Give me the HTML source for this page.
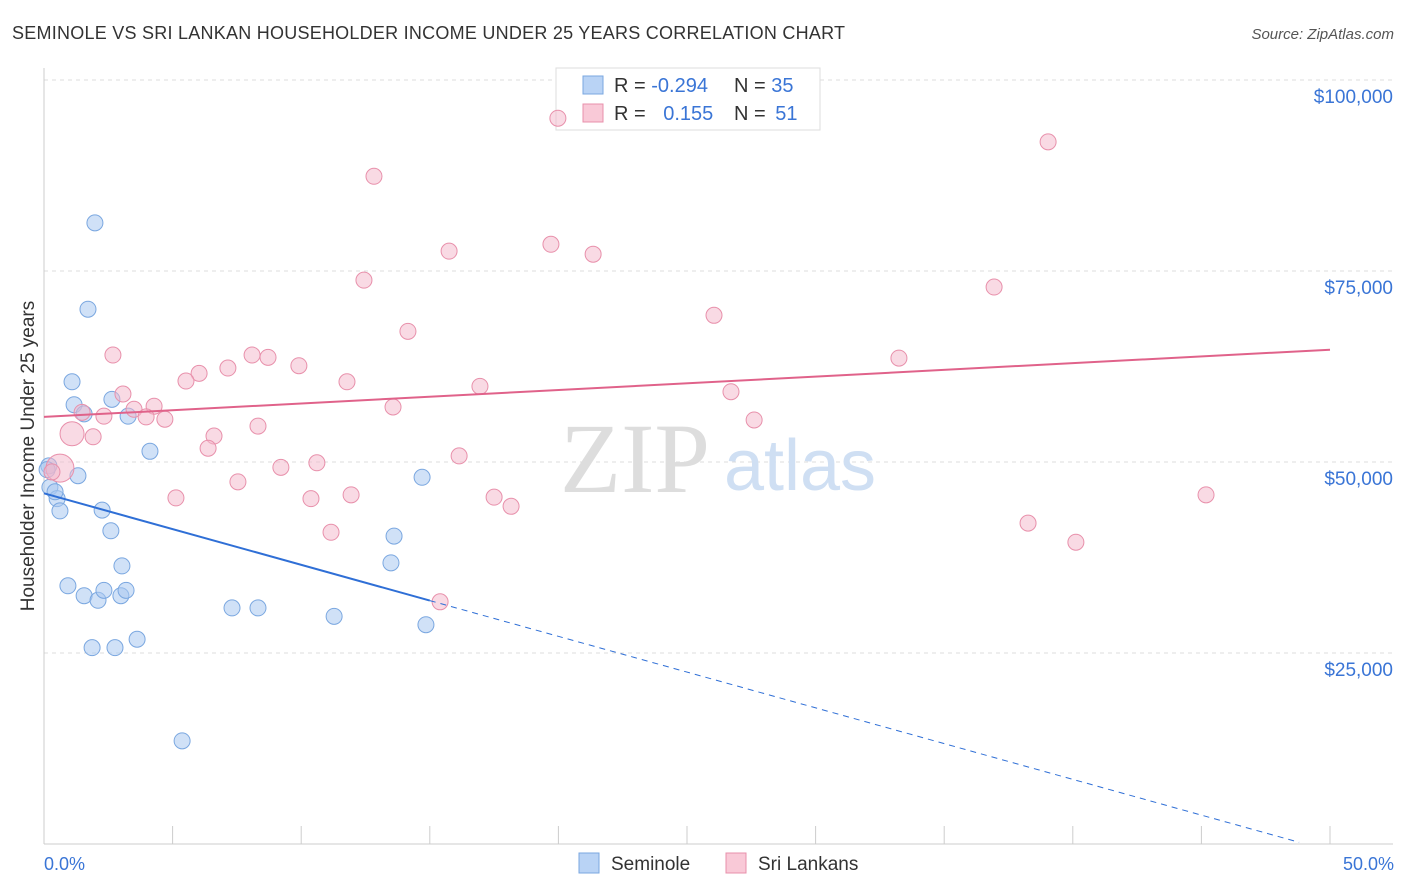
<!DOCTYPE html>
<html><head><meta charset="utf-8"><style>
body{margin:0;background:#fff;font-family:"Liberation Sans",sans-serif;}
svg{display:block}
</style></head><body>
<svg id="chart" width="1406" height="892" xmlns="http://www.w3.org/2000/svg">
<text x="12" y="39" font-size="18" fill="#333" textLength="833">SEMINOLE VS SRI LANKAN HOUSEHOLDER INCOME UNDER 25 YEARS CORRELATION CHART</text>
<text x="1394" y="39" font-size="15" fill="#555" font-style="italic" text-anchor="end">Source: ZipAtlas.com</text>
<g id="grid"></g>
<text x="635" y="492" font-size="100" fill="#ddd" font-family="Liberation Serif" text-anchor="middle">ZIP</text>
<text x="800" y="490" font-size="72" fill="#cfdff3" text-anchor="middle">atlas</text>
<g id="axes"></g>
<g>
<rect x="556" y="68" width="264" height="62" fill="#fff" stroke="#ddd"/>
<rect x="583" y="76" width="20" height="18" fill="#b9d3f5" stroke="#7aa7e0"/>
<rect x="583" y="104" width="20" height="18" fill="#f9c9d7" stroke="#e890ab"/>
<text x="614" y="92" font-size="20" fill="#333">R = <tspan fill="#3a75d6">-0.294</tspan></text>
<text x="734" y="92" font-size="20" fill="#333">N = <tspan fill="#3a75d6">35</tspan></text>
<text x="614" y="120" font-size="20" fill="#333">R = <tspan fill="#3a75d6" dx="12">0.155</tspan></text>
<text x="734" y="120" font-size="20" fill="#333">N = <tspan fill="#3a75d6" dx="4">51</tspan></text>
</g>
<g id="marks"></g>
<text x="34" y="456" font-size="19" fill="#333" text-anchor="middle" transform="rotate(-90 34 456)">Householder Income Under 25 years</text>
<text x="44" y="870" font-size="18" fill="#3a75d6">0.0%</text>
<text x="1394" y="870" font-size="18" fill="#3a75d6" text-anchor="end">50.0%</text>
<g>
<rect x="579" y="853" width="20" height="20" fill="#b9d3f5" stroke="#7aa7e0"/>
<text x="611" y="870" font-size="19" fill="#333">Seminole</text>
<rect x="726" y="853" width="20" height="20" fill="#f9c9d7" stroke="#e890ab"/>
<text x="758" y="870" font-size="19" fill="#333">Sri Lankans</text>
</g>
</svg>
<script>
const yTicks=[25,50,75,100];
const yTickLabels=["$25,000","$50,000","$75,000","$100,000"];
const xTicks=[0,5,10,15,20,25,30,35,40,45,50];
const seminoleX=[1.98,1.71,1.09,1.17,1.56,2.64,3.27,4.12,0.19,0.23,0.51,0.62,1.32,2.26,2.60,3.03,0.93,1.56,2.10,2.33,2.99,3.19,1.87,2.76,3.62,5.37,7.31,8.32,11.28,13.61,13.49,14.70,14.85,0.43,0.12];
const seminoleY=[81.3,70.0,60.5,57.5,56.3,58.2,56.0,51.4,49.5,46.7,45.2,43.6,48.2,43.7,41.0,36.4,33.8,32.5,31.9,33.2,32.5,33.2,25.7,25.7,26.8,13.5,30.9,30.9,29.8,40.3,36.8,48.0,28.7,46.1,49.0];
const sriX=[19.98,39.04,12.83,15.75,19.71,21.35,12.44,36.94,14.15,26.05,2.68,8.09,8.71,9.91,6.03,5.52,7.15,11.78,16.95,33.24,26.71,3.07,4.28,3.50,13.57,2.33,3.97,4.70,1.48,27.61,1.09,1.91,6.61,8.32,6.38,16.14,10.61,9.21,0.62,0.31,7.54,5.13,10.38,11.94,17.50,18.16,11.16,38.26,40.12,45.18,15.40];
const sriY=[95.0,91.9,87.4,77.6,78.5,77.2,73.8,72.9,67.1,69.2,64.0,64.0,63.7,62.6,61.6,60.6,62.3,60.5,59.9,63.6,59.2,58.9,57.3,56.9,57.2,56.0,55.9,55.6,56.5,55.5,53.7,53.3,53.4,54.7,51.8,50.8,49.9,49.3,49.2,48.7,47.4,45.3,45.2,45.7,45.4,44.2,40.8,42.0,39.5,45.7,31.7];
const sriR=[8,8,8,8,8,8,8,8,8,8,8,8,8,8,8,8,8,8,8,8,8,8,8,8,8,8,8,8,8,8,12,8,8,8,8,8,8,8,14,8,8,8,8,8,8,8,8,8,8,8,8];
const seminoleTrend=[45.9,-0.9];
const sriTrend=[55.9,64.7];
const blueSolidEnd=15;

const NS="http://www.w3.org/2000/svg";
const xs=v=>44+v/50*1286;
const ys=v=>844-v*7.64;
function el(t,a,p){const e=document.createElementNS(NS,t);for(const k in a)e.setAttribute(k,a[k]);document.getElementById(p).appendChild(e);return e;}
yTicks.forEach((t,i)=>{
 const l=el('line',{x1:44,x2:1393,y1:ys(t),y2:ys(t),stroke:'#ddd','stroke-dasharray':'4 4'},'grid');
 
 
 const tx=el('text',{x:1393,y:ys(t)+23,'font-size':19,fill:'#3a75d6','text-anchor':'end'},'axes');
 tx.textContent=yTickLabels[i];
 
 
});
const xa=el('line',{x1:44,x2:1393,y1:844,y2:844,stroke:'#ccc'},'axes');


const ya=el('line',{x1:44,x2:44,y1:68,y2:844,stroke:'#ccc'},'axes');


xTicks.forEach(t=>{
 const l=el('line',{x1:xs(t),x2:xs(t),y1:826,y2:844,stroke:'#ccc'},'axes');
 
 
});
function trendY(tr,x){return tr[0]+(tr[1]-tr[0])*x/50;}
seminoleX.forEach((x,i)=>{
 const c=el('circle',{cx:xs(x),cy:ys(seminoleY[i]),r:8,fill:'rgba(169,200,240,0.55)',stroke:'#7aa7e0','stroke-width':1},'marks');
 
 
});
sriX.forEach((x,i)=>{
 const c=el('circle',{cx:xs(x),cy:ys(sriY[i]),r:sriR[i],fill:'rgba(244,182,201,0.5)',stroke:'#e890ab','stroke-width':1},'marks');
 
 
});
const bl=el('line',{x1:xs(0),y1:ys(trendY(seminoleTrend,0)),x2:xs(blueSolidEnd),y2:ys(trendY(seminoleTrend,blueSolidEnd)),stroke:'#2f6fd6','stroke-width':2},'marks');


const bd=el('line',{x1:xs(blueSolidEnd),y1:ys(trendY(seminoleTrend,blueSolidEnd)),x2:xs(48.8),y2:ys(trendY(seminoleTrend,48.8)),stroke:'#2f6fd6','stroke-width':1,'stroke-dasharray':'6 5'},'marks');


const pl=el('line',{x1:xs(0),y1:ys(sriTrend[0]),x2:xs(50),y2:ys(sriTrend[1]),stroke:'#e0628a','stroke-width':2},'marks');


</script>
</body></html>
